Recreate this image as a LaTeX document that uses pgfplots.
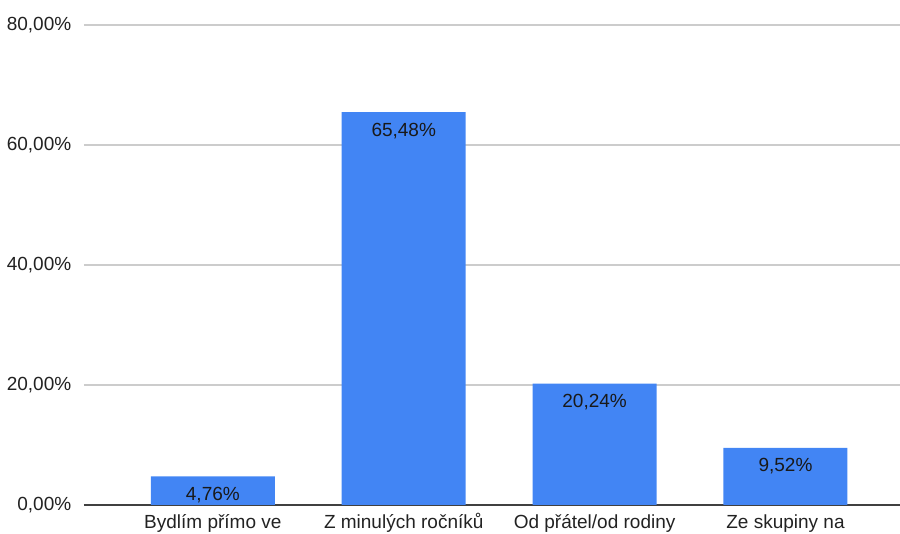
\documentclass[border=0pt]{standalone}
\usepackage{pgfplots}
\pgfplotsset{compat=1.18}
\usepackage{fontspec}
\setmainfont{Liberation Sans}
\definecolor{barblue}{HTML}{4285F4}
\definecolor{gridgray}{HTML}{CCCCCC}
\definecolor{txt}{HTML}{222222}
\begin{document}
\begin{tikzpicture}
\fontsize{9.5}{11}\selectfont
\begin{axis}[
  name=ax,
  scale only axis,
  width=408pt, height=240pt,
  xmin=-0.675, xmax=3.6,
  ymin=0, ymax=80,
  ytick={0,20,40,60,80},
  yticklabels={{0,00\%},{20,00\%},{40,00\%},{60,00\%},{80,00\%}},
  xtick={0,1,2,3},
  xticklabels={Bydlím přímo ve, Z minulých ročníků, Od přátel/od rodiny, Ze skupiny na},
  ymajorgrids,
  grid style={gridgray, line width=0.6pt},
  axis x line*=bottom,
  axis y line*=left,
  y axis line style={draw=none},
  x axis line style={draw=black!75, line width=0.7pt, -},
  major tick length=0pt,
  tick label style={font=\fontsize{9.5}{11}\selectfont, text=txt},
  yticklabel style={xshift=-3pt},
  xticklabel style={text height=7pt, text depth=2.5pt, yshift=-1.5pt},
  ybar, bar width=62pt,
  point meta=explicit symbolic,
  nodes near coords,
  nodes near coords style={anchor=north, yshift=-2pt, font=\fontsize{9.5}{11}\selectfont, text=black!90},
  clip=false,
]
\addplot[fill=barblue, draw=none] coordinates {
  (0,4.76)  [4,76\%]
  (1,65.48) [65,48\%]
  (2,20.24) [20,24\%]
  (3,9.52)  [9,52\%]
};
\end{axis}
\pgfresetboundingbox
\path (ax.south west) ++(-42pt,-14.5pt) rectangle ++(450pt,267pt);
\end{tikzpicture}
\end{document}
